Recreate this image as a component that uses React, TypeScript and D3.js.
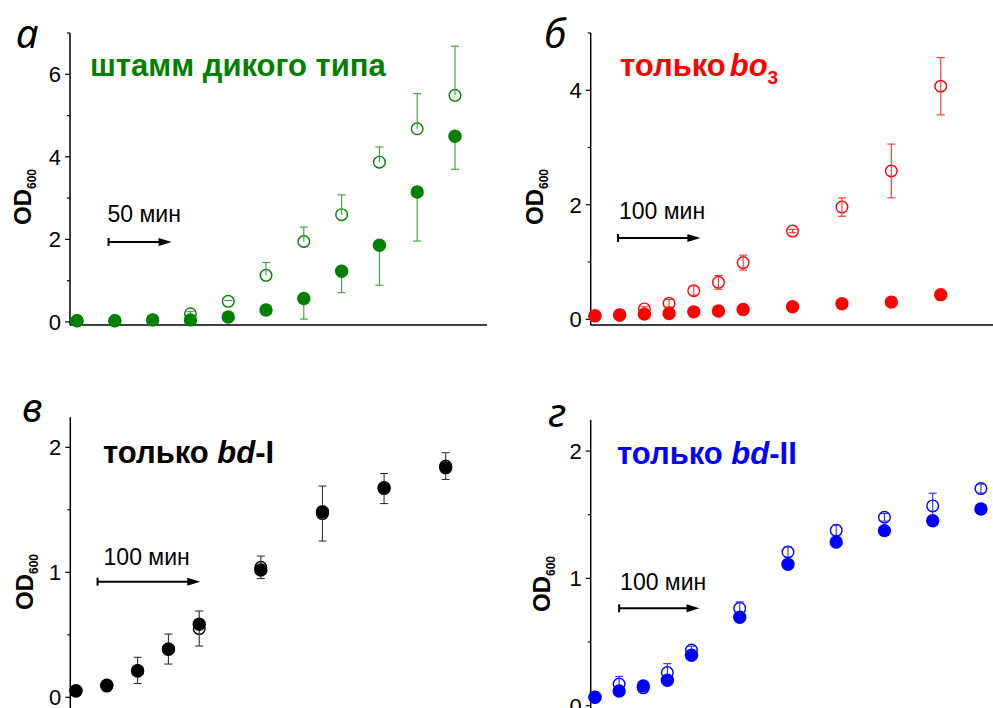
import React from 'react';
import * as d3 from 'd3';

const SANS = '"Liberation Sans", Arial, sans-serif';

// ---- Panel а (wild type), 30-min sampling ----
const timeA = [0, 30, 60, 90, 120, 150, 180, 210, 240, 270, 300];
const filledA = [0.03, 0.03, 0.05, 0.05, 0.12, 0.29, 0.57, 1.23, 1.86, 3.15, 4.5];
const filledErrA = [0, 0, 0, 0, 0, 0, 0.5, 0.52, 0.97, 1.19, 0.8];
const openA = [0.03, 0.03, 0.05, 0.2, 0.5, 1.13, 1.95, 2.6, 3.87, 4.68, 5.49];
const openErrA = [0, 0, 0, 0.05, 0.02, 0.31, 0.35, 0.48, 0.37, 0.85, 1.19];
const yTicksA = [0, 2, 4, 6];
const yMinorA = [1, 3, 5, 7];

// ---- Panel б (bo3 only) ----
const timeB = [0, 30, 60, 90, 120, 150, 180, 240, 300, 360, 420];
const filledB = [0.06, 0.075, 0.09, 0.1, 0.13, 0.145, 0.17, 0.22, 0.27, 0.3, 0.43];
const openB = [0.06, 0.075, 0.18, 0.28, 0.5, 0.645, 0.99, 1.54, 1.96, 2.59, 4.07];
const openErrB = [0, 0, 0.04, 0.065, 0.08, 0.12, 0.13, 0.03, 0.16, 0.47, 0.5];
const yTicksB = [0, 2, 4];
const yMinorB = [1, 3, 5];

// ---- Panel в (bd-I only) ----
const timeV = [0, 30, 60, 90, 120, 180, 240, 300, 360];
const filledV = [0.053, 0.096, 0.21, 0.384, 0.584, 1.018, 1.485, 1.677, 1.837];
const openV = [0.05, 0.09, 0.215, 0.386, 0.55, 1.04, 1.47, 1.67, 1.85];
const errV = [0.02, 0.02, 0.105, 0.12, 0.14, 0.09, 0.22, 0.12, 0.107];
const yTicksV = [0, 1, 2];
const yMinorV = [0.5, 1.5];

// ---- Panel г (bd-II only) ----
const timeG = [0, 30, 60, 90, 120, 180, 240, 300, 360, 420, 480];
const filledG = [0.066, 0.115, 0.155, 0.2, 0.396, 0.694, 1.11, 1.286, 1.375, 1.453, 1.545];
const openG = [0.066, 0.17, 0.14, 0.26, 0.437, 0.765, 1.207, 1.377, 1.48, 1.569, 1.705];
const openErrG = [0, 0.06, 0.02, 0.07, 0.03, 0.05, 0.04, 0.04, 0.03, 0.1, 0.035];
const yTicksG = [0, 1, 2];
const yMinorG = [0.5, 1.5];

type Err = { vals: number[]; base: number[]; dir: 'up' | 'down' | 'both' };

type PanelProps = {
  letter: string;
  letterPos: [number, number];
  title: React.ReactNode;
  titlePos: [number, number];
  color: string;
  errColor: string;
  times: number[];
  filled: number[];
  open: number[];
  errs: Err[];
  xDomain: [number, number];
  xRange: [number, number];
  yDomain: [number, number];
  yRange: [number, number];
  ticks: number[];
  minor: number[];
  arrow: { t0: number; len: number; y: number; label: string; dx: number; dy: number };
  odPos: [number, number];
};

function Panel(p: PanelProps) {
  const x = d3.scaleLinear().domain(p.xDomain).range(p.xRange);
  const y = d3.scaleLinear().domain(p.yDomain).range(p.yRange);
  const ax = p.xRange[0];
  const ay0 = p.yRange[0];
  const ay1 = p.yRange[1];
  const capW = 4;
  const ax0 = x(p.arrow.t0);
  const ax1 = x(p.arrow.t0 + p.arrow.len);
  const ayA = y(p.arrow.y);
  return (
    <g>
      {/* axes */}
      <line x1={ax} x2={ax} y1={ay1} y2={ay0} stroke="#000" strokeWidth={1.5} />
      <line x1={ax} x2={p.xRange[1]} y1={ay0} y2={ay0} stroke="#000" strokeWidth={1.5} />
      {p.ticks.map((t) => (
        <g key={'t' + t}>
          <line x1={ax - 5} x2={ax} y1={y(t)} y2={y(t)} stroke="#000" strokeWidth={1.2} />
          <text x={ax - 9} y={y(t)} dy="0.36em" textAnchor="end" fontFamily={SANS} fontSize={22} fill="#000">
            {t}
          </text>
        </g>
      ))}
      {p.minor.map((t) => (
        <line key={'m' + t} x1={ax - 3} x2={ax} y1={y(t)} y2={y(t)} stroke="#000" strokeWidth={1.2} />
      ))}
      {/* y label */}
      <text
        transform={`translate(${p.odPos[0]},${p.odPos[1]}) rotate(-90)`}
        fontFamily={SANS}
        fontWeight="bold"
        fontSize={24}
        fill="#000"
      >
        OD
        <tspan fontSize={12} dy={5}>600</tspan>
      </text>
      {/* panel letter */}
      <text x={p.letterPos[0]} y={p.letterPos[1]} fontFamily='"Noto Sans", sans-serif' fontStyle="italic" fontSize={40} fill="#000">
        {p.letter}
      </text>
      {/* title */}
      <text x={p.titlePos[0]} y={p.titlePos[1]} fontFamily={SANS} fontWeight="bold" fontSize={31} fill={p.color}>
        {p.title}
      </text>
      {/* time arrow */}
      <text x={ax0 + p.arrow.dx} y={ayA - p.arrow.dy} fontFamily={SANS} fontSize={23} fill="#000">
        {p.arrow.label}
      </text>
      <line x1={ax0} x2={ax1 - 8} y1={ayA} y2={ayA} stroke="#000" strokeWidth={2} />
      <line x1={ax0} x2={ax0} y1={ayA - 4} y2={ayA + 4} stroke="#000" strokeWidth={2} />
      <path d={`M${ax1},${ayA} L${ax1 - 13},${ayA - 4} L${ax1 - 13},${ayA + 4} Z`} fill="#000" />
      {/* open points */}
      {p.open.map((v, i) => (
        <circle key={'o' + i} cx={x(p.times[i])} cy={y(v)} r={5.8} fill="none" stroke={p.color} strokeWidth={1.4} />
      ))}
      {/* error bars */}
      {p.errs.map((e, k) =>
        e.vals.map((ev, i) => {
          if (!ev) return null;
          const cx = x(p.times[i]);
          const hi = e.dir === 'down' ? e.base[i] : e.base[i] + ev;
          const lo = e.dir === 'up' ? e.base[i] : e.base[i] - ev;
          return (
            <g key={'e' + k + '-' + i} stroke={p.errColor} strokeWidth={1.1}>
              <line x1={cx} x2={cx} y1={y(hi)} y2={y(lo)} />
              {e.dir !== 'down' && <line x1={cx - capW} x2={cx + capW} y1={y(hi)} y2={y(hi)} />}
              {e.dir !== 'up' && <line x1={cx - capW} x2={cx + capW} y1={y(lo)} y2={y(lo)} />}
            </g>
          );
        })
      )}
      {/* filled points */}
      {p.filled.map((v, i) => (
        <circle key={'f' + i} cx={x(p.times[i])} cy={y(v)} r={6.7} fill={p.color} />
      ))}
    </g>
  );
}

export default function App() {
  return (
    <div style={{ position: 'absolute', left: 0, top: 0 }}>
      <svg width={993} height={708} style={{ display: 'block', background: '#fff' }}>
        <Panel
          letter="а"
          letterPos={[16, 48]}
          title="штамм дикого типа"
          titlePos={[90, 76]}
          color="#008000"
          errColor="#3d9a3d"
          times={timeA}
          filled={filledA}
          open={openA}
          errs={[
            { vals: openErrA, base: openA, dir: 'up' },
            { vals: filledErrA, base: filledA, dir: 'down' },
          ]}
          xDomain={[-5.6, 325.4]}
          xRange={[70, 487]}
          yDomain={[-0.073, 7]}
          yRange={[325, 33]}
          ticks={yTicksA}
          minor={yMinorA}
          arrow={{ t0: 25, len: 50, y: 1.94, label: '50 мин', dx: -1, dy: 20 }}
          odPos={[31, 225]}
        />
        <Panel
          letter="б"
          letterPos={[544, 48]}
          title={
            <>
              только
              <tspan fontStyle="italic" dx={4}>bo</tspan>
              <tspan fontSize={19} dy={8}>3</tspan>
            </>
          }
          titlePos={[620, 76]}
          color="#ff0000"
          errColor="#ff3030"
          times={timeB}
          filled={filledB}
          open={openB}
          errs={[{ vals: openErrB, base: openB, dir: 'both' }]}
          xDomain={[-5.2, 492]}
          xRange={[590.7, 1000]}
          yDomain={[-0.1, 5]}
          yRange={[325, 33]}
          ticks={yTicksB}
          minor={yMinorB}
          arrow={{ t0: 28, len: 100, y: 1.42, label: '100 мин', dx: 1, dy: 19 }}
          odPos={[543, 225]}
        />
        <Panel
          letter="в"
          letterPos={[22, 422]}
          title={
            <>
              только <tspan fontStyle="italic">bd</tspan>-I
            </>
          }
          titlePos={[103, 463]}
          color="#000000"
          errColor="#333333"
          times={timeV}
          filled={filledV}
          open={openV}
          errs={[{ vals: errV, base: openV, dir: 'both' }]}
          xDomain={[-5.55, 393.4]}
          xRange={[70.3, 480]}
          yDomain={[-0.1, 2.24]}
          yRange={[709.8, 417.3]}
          ticks={yTicksV}
          minor={yMinorV}
          arrow={{ t0: 21, len: 100, y: 0.925, label: '100 мин', dx: 6, dy: 17 }}
          odPos={[33, 610]}
        />
        <Panel
          letter="г"
          letterPos={[548, 427]}
          title={
            <>
              только <tspan fontStyle="italic">bd</tspan>-II
            </>
          }
          titlePos={[617, 464]}
          color="#0000ff"
          errColor="#2a2aff"
          times={timeG}
          filled={filledG}
          open={openG}
          errs={[{ vals: openErrG, base: openG, dir: 'both' }]}
          xDomain={[-5.35, 503.7]}
          xRange={[590.7, 1000]}
          yDomain={[-0.1, 2.244]}
          yRange={[718.4, 420]}
          ticks={yTicksG}
          minor={yMinorG}
          arrow={{ t0: 30, len: 100, y: 0.765, label: '100 мин', dx: 1, dy: 18 }}
          odPos={[550, 612]}
        />
      </svg>
    </div>
  );
}
